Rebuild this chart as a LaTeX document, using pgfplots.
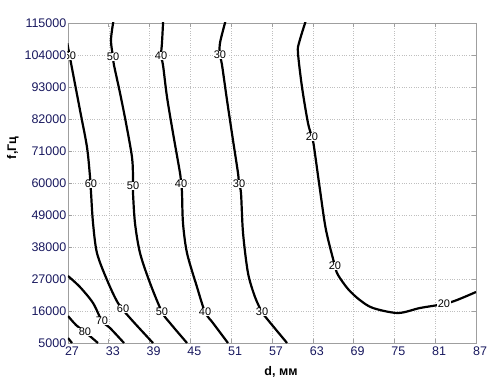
\documentclass[border=0pt]{standalone}
\usepackage{fontspec}
\setmainfont{Liberation Sans}
\usepackage{pgfplots}
\pgfplotsset{compat=1.18}
\definecolor{tickblue}{RGB}{25,25,95}
\pgfplotsset{cont/.style={black, line width=2.2pt, smooth, mark=none, solid}}
\begin{document}
\begin{tikzpicture}
\begin{axis}[
  at={(0,0)}, anchor=south west,
  scale only axis, width=408pt, height=320pt,
  xmin=27, xmax=87, ymin=5000, ymax=115000,
  xtick={27,33,...,87},
  ytick={5000,16000,...,115000},
  /pgf/number format/assume math mode=true,
  scaled y ticks=false,
  yticklabel style={/pgf/number format/fixed, /pgf/number format/set thousands separator={}, inner sep=1.5pt},
  ticklabel style={font=\fontsize{12.5}{14}\selectfont, text=tickblue},
  xticklabel style={inner sep=1pt, yshift=-3pt, xshift=4pt},
  axis line style={draw=gray!75, line width=0.8pt},
  tick style={draw=gray!75, line width=0.6pt},
  tick align=inside, major tick length=4pt,
  grid=major,
  major grid style={dotted, draw=gray!50, line width=0.5pt},
  xlabel={\textbf{d, мм}},
  ylabel={\textbf{f,Гц}},
  xlabel style={font=\fontsize{12.5}{14}\selectfont, at={(axis description cs:0.522,-0.09)}, anchor=center},
  ylabel style={font=\fontsize{12.5}{14}\selectfont, at={(axis description cs:-0.135,0.61)}, anchor=center},
  clip=true,
]
% contour 90
\addplot[cont] coordinates {(27,6719) (27.59,5000)};
% contour 80
\addplot[cont] coordinates {(27,14281) (28.18,11188) (29.5,8781) (31.41,5000)};
% contour 70
\addplot[cont] coordinates {(27,28031) (28.76,24250) (30.68,18750) (32.0,12563) (33.18,10156) (35.24,5000)};
% contour 60
\addplot[cont] coordinates {(26.9,108000) (27.44,101250) (28.76,85094) (29.79,72375) (30.24,62063) (30.38,56906) (30.68,46250) (31.26,35938) (32.74,26656) (34.35,18750) (36.12,13594) (39.5,5000)};
% contour 50
\addplot[cont] coordinates {(33.7,116000) (33.32,109156) (33.62,103313) (33.76,100563) (34.65,90938) (35.53,80625) (36.41,68938) (36.56,62063) (36.56,58969) (36.56,56563) (36.85,46250) (37.59,35938) (39.06,25625) (40.82,15656) (42.0,11875) (44.5,5000)};
% contour 40
\addplot[cont] coordinates {(41.0,116000) (40.82,108125) (40.68,103656) (40.97,100563) (41.56,89563) (42.44,77188) (43.47,63438) (43.62,59656) (43.76,56906) (43.91,46250) (44.5,35938) (45.97,24250) (47.15,15656) (48.32,11875) (50.53,5000)};
% contour 30
\addplot[cont] coordinates {(50.2,116000) (49.35,108125) (49.35,104000) (49.65,100563) (50.38,88531) (51.26,74781) (52.0,63438) (52.15,59656) (52.44,56563) (52.74,42813) (53.47,29063) (54.5,20813) (55.53,15656) (56.41,12906) (59.21,5000)};
% contour 20
\addplot[cont] coordinates {(62.0,116000) (60.97,108125) (60.82,104688) (61.41,93000) (62.29,80625) (62.88,75813) (63.18,72375) (64.06,57594) (64.94,43844) (66.26,31469) (66.71,28375) (68.2,23500) (69.9,19800) (71.85,17031) (75.53,15313) (78.76,17031) (82.29,18406) (84.21,19781) (87,22531)};
% contour labels
\tikzset{cl/.style={fill=white, inner sep=0.6pt, font=\fontsize{11}{12}\selectfont, text=black}}
\begin{scope}
\clip (rel axis cs:0,0) rectangle (rel axis cs:1,1);
\node[cl] at (axis cs:27.29,103656) {60};
\end{scope}
\node[cl] at (axis cs:30.38,59656) {60};
\node[cl] at (axis cs:35.09,16688) {60};
\node[cl] at (axis cs:32.0,12563) {70};
\node[cl] at (axis cs:29.5,8781) {80};
\node[cl] at (axis cs:33.62,103313) {50};
\node[cl] at (axis cs:36.56,58969) {50};
\node[cl] at (axis cs:40.82,15656) {50};
\node[cl] at (axis cs:40.68,103656) {40};
\node[cl] at (axis cs:43.62,59656) {40};
\node[cl] at (axis cs:47.15,15656) {40};
\node[cl] at (axis cs:49.35,104000) {30};
\node[cl] at (axis cs:52.15,59656) {30};
\node[cl] at (axis cs:55.53,15656) {30};
\node[cl] at (axis cs:62.88,75813) {20};
\node[cl] at (axis cs:66.26,31469) {20};
\node[cl] at (axis cs:82.29,18406) {20};
\end{axis}
\pgfresetboundingbox
\path (-68pt,-38pt) rectangle (424pt,343pt);
\end{tikzpicture}
\end{document}
